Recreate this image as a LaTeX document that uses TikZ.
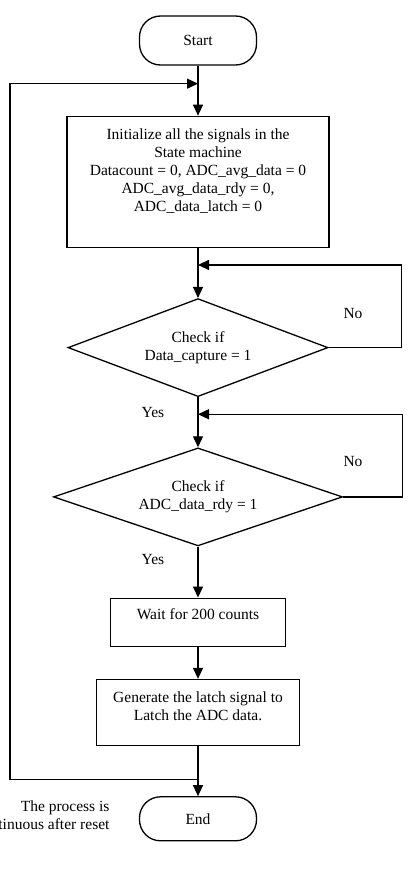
\documentclass[tikz,border=0pt]{standalone}
\usepackage{fontspec}
\setmainfont{Liberation Serif}
\usetikzlibrary{
  arrows.meta,
  positioning,
  shapes.geometric,
}
\tikzset{
  >={Triangle[width=10pt,length=11pt]},
  flow/.style={draw,line width=1.3pt},
  termbox/.style={draw,line width=1.3pt,rectangle,rounded corners=21pt,minimum width=117pt,align=center},
  procbox/.style={draw,line width=1.3pt,rectangle,align=center,inner sep=0pt},
  checkbox/.style={draw,line width=1.3pt,diamond,align=center,inner sep=1pt},
}

\begin{document}
\begin{tikzpicture}[x=1pt,y=-1pt,node distance=50pt,font=\fontsize{15.5}{18}\selectfont]
    \useasboundingbox (0,0) rectangle (407,878);

        \node[termbox,minimum height=49pt]    (start) at (198,40.5)    {Start};
        \node[procbox,minimum width=262pt,minimum height=131pt]    (init)  [below=of start]    {Initialize all the signals in the\\State machine\\Datacount = 0, ADC\_avg\_data = 0\\ADC\_avg\_data\_rdy = 0,\\ADC\_data\_latch = 0\\[6pt]\mbox{}};
        \node[checkbox,aspect=2.65,minimum width=260pt,minimum height=98pt]    (capture)  [below=of init]    {Check if\\Data\_capture = 1};
        \node[checkbox,aspect=2.95,minimum width=289pt,minimum height=98pt]    (ready)  [below=of capture]    {Check if\\ADC\_data\_rdy = 1};
        \node[procbox,minimum width=175pt,minimum height=48pt]    (wait)  [below=51pt of ready]    {Wait for 200 counts\\[-2pt]\mbox{}};
        \node[procbox,minimum width=203pt,minimum height=66pt]    (latch)  [below=32pt of wait]    {Generate the latch signal to\\Latch the ADC data.\\[-6pt]\mbox{}};
        \node[termbox,minimum height=44pt]    (end)  [below=of latch]    {End};

        % junctions on the main line
        \coordinate[below=18pt of start] (jtop);
        \coordinate[below=17pt of init] (jcapture);
        \coordinate[below=17pt of capture] (jready);
        \coordinate[above=17pt of end] (jbottom);

        \draw[flow,->] (start) -- (init);
        \draw[flow,->] (init) -- (capture);
        \draw[flow,->] (capture) -- (ready);
        \draw[flow,->] (ready) -- (wait);
        \draw[flow,->] (wait) -- (latch);
        \draw[flow,->] (latch) -- (end);

        \draw[flow,->] (capture.east) -- ++(73,0) |- (jcapture);
        \draw[flow,->] (ready.east) -- ++(59,0) |- (jready);
        \draw[flow,->] (jbottom) -- ++(-188,0) |- (jtop);

        \node (no1) at (353,313) {No};
        \node (no2) at (353,461) {No};
        \node (yes1) at (153,412) {Yes};
        \node (yes2) at (153,559) {Yes};
        \node[align=right,anchor=east] (note) at (113,815) {The process is\\continuous after reset};
    \end{tikzpicture}
\end{document}
